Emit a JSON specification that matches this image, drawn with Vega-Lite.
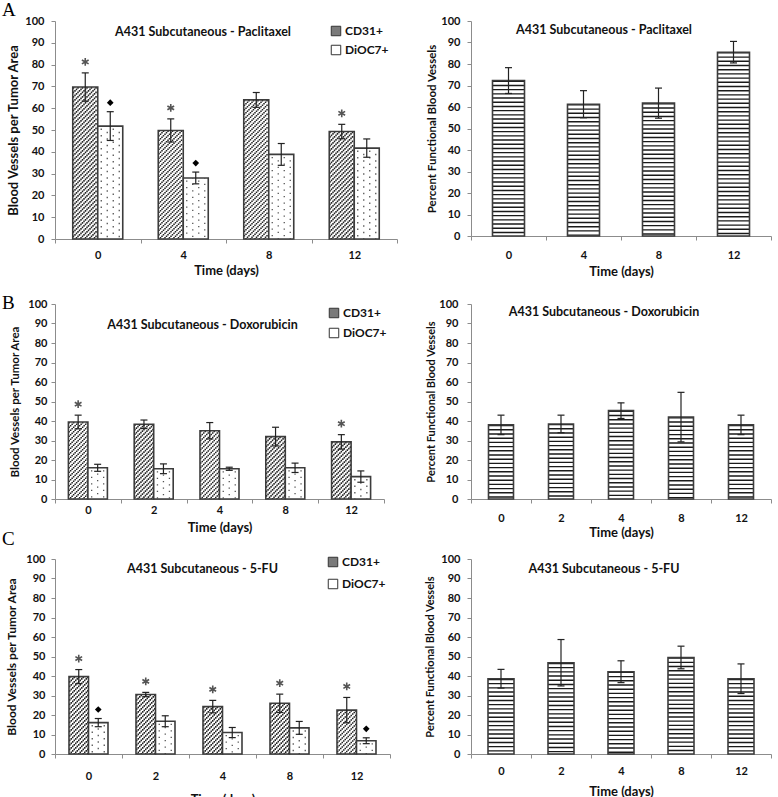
{
"$schema": "https://vega.github.io/schema/vega-lite/v6.json",
"background": "white",
"padding": {"left": 2, "top": 0, "right": 5, "bottom": 5},
"spacing": 15,
"resolve": {"scale": {"fill": "independent", "x": "independent"}, "legend": {"fill": "independent"}},
"config": {
  "font": "Lato",
  "view": {"stroke": null},
  "title": {"font": "Lato", "fontWeight": "bold", "fontSize": 12.5, "color": "#111"},
  "axis": {"labelFont": "Lato", "labelFontWeight": "bold", "labelFontSize": 11, "labelColor": "#111", "titleFont": "Lato", "titleFontWeight": "bold", "titleFontSize": 13, "titleColor": "#111", "domainColor": "#8c8c8c", "tickColor": "#8c8c8c", "tickSize": 4, "grid": false},
  "axisY": {"labelOverlap": false}
},
"vconcat": [
{
  "bounds": "flush",
  "spacing": 74,
  "resolve": {"scale": {"fill": "independent", "x": "independent"}, "legend": {"fill": "independent"}},
  "title": {"text": "A", "anchor": "start", "frame": "group", "orient": "top", "offset": -19.5, "dx": -53, "font": "Liberation Serif", "fontSize": 19, "fontWeight": "normal", "baseline": "alphabetic", "color": "#000"},
  "hconcat": [
  {
    "width": 342, "height": 218,
    "title": {"text": "A431 Subcutaneous - Paclitaxel", "frame": "group", "anchor": "middle", "offset": -33, "dx": -23, "baseline": "alphabetic"},
    "data": {"values": [
      {"day": "0", "s": "CD31+", "v": 69.7, "lo": 63.2, "hi": 76.2, "sig": 1},
      {"day": "0", "s": "DiOC7+", "v": 51.8, "lo": 45.2, "hi": 58.4, "sig": 1},
      {"day": "4", "s": "CD31+", "v": 49.8, "lo": 44.5, "hi": 55.1, "sig": 1},
      {"day": "4", "s": "DiOC7+", "v": 28.0, "lo": 25.3, "hi": 30.7, "sig": 1},
      {"day": "8", "s": "CD31+", "v": 63.8, "lo": 60.4, "hi": 67.2, "sig": 0},
      {"day": "8", "s": "DiOC7+", "v": 38.8, "lo": 33.8, "hi": 43.8, "sig": 0},
      {"day": "12", "s": "CD31+", "v": 49.3, "lo": 46.0, "hi": 52.6, "sig": 1},
      {"day": "12", "s": "DiOC7+", "v": 41.7, "lo": 37.5, "hi": 45.9, "sig": 0}
    ]},
    "encoding": {
      "x": {"field": "day", "type": "ordinal", "sort": null, "scale": {"paddingInner": 0, "paddingOuter": 0}, "axis": {"title": "Time (days)", "labelAngle": 0, "tickBand": "extent", "labelPadding": 6, "titlePadding": 4}},
      "y": {"field": "v", "type": "quantitative", "scale": {"domain": [0, 100]}, "axis": {"title": "Blood Vessels per Tumor Area", "values": [0,10,20,30,40,50,60,70,80,90,100], "labelOverlap": false, "labelPadding": 7, "titlePadding": 4, "titleFontSize": 13}}
    },
    "layer": [
      {"transform": [{"filter": "datum.s == 'CD31+'"}],
       "layer": [
        {"mark": {"type": "bar", "width": 25, "xOffset": -12.5, "fill": "#ffffff"}, "encoding": {}},
        {"encoding": {"y2": {"datum": 0}},
         "layer": [
          {"mark": {"type": "rule", "xOffset": -24.25, "strokeWidth": 1.5, "strokeDash": [1.6, 2.9], "strokeDashOffset": 0, "color": "#222"}, "encoding": {}},
          {"mark": {"type": "rule", "xOffset": -22.75, "strokeWidth": 1.5, "strokeDash": [1.6, 2.9], "strokeDashOffset": 1.5, "color": "#222"}, "encoding": {}},
          {"mark": {"type": "rule", "xOffset": -21.25, "strokeWidth": 1.5, "strokeDash": [1.6, 2.9], "strokeDashOffset": 3, "color": "#222"}, "encoding": {}},
          {"mark": {"type": "rule", "xOffset": -19.75, "strokeWidth": 1.5, "strokeDash": [1.6, 2.9], "strokeDashOffset": 0, "color": "#222"}, "encoding": {}},
          {"mark": {"type": "rule", "xOffset": -18.25, "strokeWidth": 1.5, "strokeDash": [1.6, 2.9], "strokeDashOffset": 1.5, "color": "#222"}, "encoding": {}},
          {"mark": {"type": "rule", "xOffset": -16.75, "strokeWidth": 1.5, "strokeDash": [1.6, 2.9], "strokeDashOffset": 3, "color": "#222"}, "encoding": {}},
          {"mark": {"type": "rule", "xOffset": -15.25, "strokeWidth": 1.5, "strokeDash": [1.6, 2.9], "strokeDashOffset": 0, "color": "#222"}, "encoding": {}},
          {"mark": {"type": "rule", "xOffset": -13.75, "strokeWidth": 1.5, "strokeDash": [1.6, 2.9], "strokeDashOffset": 1.5, "color": "#222"}, "encoding": {}},
          {"mark": {"type": "rule", "xOffset": -12.25, "strokeWidth": 1.5, "strokeDash": [1.6, 2.9], "strokeDashOffset": 3, "color": "#222"}, "encoding": {}},
          {"mark": {"type": "rule", "xOffset": -10.75, "strokeWidth": 1.5, "strokeDash": [1.6, 2.9], "strokeDashOffset": 0, "color": "#222"}, "encoding": {}},
          {"mark": {"type": "rule", "xOffset": -9.25, "strokeWidth": 1.5, "strokeDash": [1.6, 2.9], "strokeDashOffset": 1.5, "color": "#222"}, "encoding": {}},
          {"mark": {"type": "rule", "xOffset": -7.75, "strokeWidth": 1.5, "strokeDash": [1.6, 2.9], "strokeDashOffset": 3, "color": "#222"}, "encoding": {}},
          {"mark": {"type": "rule", "xOffset": -6.25, "strokeWidth": 1.5, "strokeDash": [1.6, 2.9], "strokeDashOffset": 0, "color": "#222"}, "encoding": {}},
          {"mark": {"type": "rule", "xOffset": -4.75, "strokeWidth": 1.5, "strokeDash": [1.6, 2.9], "strokeDashOffset": 1.5, "color": "#222"}, "encoding": {}},
          {"mark": {"type": "rule", "xOffset": -3.25, "strokeWidth": 1.5, "strokeDash": [1.6, 2.9], "strokeDashOffset": 3, "color": "#222"}, "encoding": {}},
          {"mark": {"type": "rule", "xOffset": -1.75, "strokeWidth": 1.5, "strokeDash": [1.6, 2.9], "strokeDashOffset": 0, "color": "#222"}, "encoding": {}}
         ]},
        {"mark": {"type": "bar", "width": 25, "xOffset": -12.5, "fillOpacity": 0, "stroke": "#3c3c3c", "strokeWidth": 1.6}, "encoding": {}},
        {"mark": {"type": "rule", "xOffset": -12.5, "color": "#222", "strokeWidth": 1.2}, "encoding": {"y": {"field": "lo", "type": "quantitative", "axis": {"title": "Blood Vessels per Tumor Area", "values": [0,10,20,30,40,50,60,70,80,90,100], "labelOverlap": false, "labelPadding": 7, "titlePadding": 4, "titleFontSize": 13}}, "y2": {"field": "hi"}}},
        {"mark": {"type": "tick", "xOffset": -12.5, "color": "#222", "size": 7, "thickness": 1.2, "opacity": 1}, "encoding": {"y": {"field": "lo", "type": "quantitative", "axis": {"title": "Blood Vessels per Tumor Area", "values": [0,10,20,30,40,50,60,70,80,90,100], "labelOverlap": false, "labelPadding": 7, "titlePadding": 4, "titleFontSize": 13}}}},
        {"mark": {"type": "tick", "xOffset": -12.5, "color": "#222", "size": 7, "thickness": 1.2, "opacity": 1}, "encoding": {"y": {"field": "hi", "type": "quantitative", "axis": {"title": "Blood Vessels per Tumor Area", "values": [0,10,20,30,40,50,60,70,80,90,100], "labelOverlap": false, "labelPadding": 7, "titlePadding": 4, "titleFontSize": 13}}}},
        {"transform": [{"filter": "datum.sig == 1"}], "mark": {"type": "point", "shape": "M0,-1L0,1M-0.87,-0.5L0.87,0.5M-0.87,0.5L0.87,-0.5", "filled": false, "size": 60, "strokeWidth": 1.6, "color": "#555", "opacity": 1, "xOffset": -12.5, "yOffset": -11}, "encoding": {"y": {"field": "hi", "type": "quantitative", "axis": {"title": "Blood Vessels per Tumor Area", "values": [0,10,20,30,40,50,60,70,80,90,100], "labelOverlap": false, "labelPadding": 7, "titlePadding": 4, "titleFontSize": 13}}}}
       ]},
      {"transform": [{"filter": "datum.s == 'DiOC7+'"}],
       "layer": [
        {"mark": {"type": "bar", "width": 25, "xOffset": 12.5, "fill": "#ffffff"}, "encoding": {}},
        {"encoding": {"y2": {"datum": 0}},
         "layer": [
          {"mark": {"type": "rule", "xOffset": 3.5, "strokeWidth": 1.3, "strokeDash": [1.3, 5.2], "strokeDashOffset": -2.5, "color": "#555"}, "encoding": {}},
          {"mark": {"type": "rule", "xOffset": 9.5, "strokeWidth": 1.3, "strokeDash": [1.3, 5.2], "strokeDashOffset": -5.75, "color": "#555"}, "encoding": {}},
          {"mark": {"type": "rule", "xOffset": 15.5, "strokeWidth": 1.3, "strokeDash": [1.3, 5.2], "strokeDashOffset": -2.5, "color": "#555"}, "encoding": {}},
          {"mark": {"type": "rule", "xOffset": 21.5, "strokeWidth": 1.3, "strokeDash": [1.3, 5.2], "strokeDashOffset": -5.75, "color": "#555"}, "encoding": {}}
         ]},
        {"mark": {"type": "bar", "width": 25, "xOffset": 12.5, "fillOpacity": 0, "stroke": "#3c3c3c", "strokeWidth": 1.6}, "encoding": {}},
        {"mark": {"type": "rule", "xOffset": 12.5, "color": "#222", "strokeWidth": 1.2}, "encoding": {"y": {"field": "lo", "type": "quantitative", "axis": {"title": "Blood Vessels per Tumor Area", "values": [0,10,20,30,40,50,60,70,80,90,100], "labelOverlap": false, "labelPadding": 7, "titlePadding": 4, "titleFontSize": 13}}, "y2": {"field": "hi"}}},
        {"mark": {"type": "tick", "xOffset": 12.5, "color": "#222", "size": 7, "thickness": 1.2, "opacity": 1}, "encoding": {"y": {"field": "lo", "type": "quantitative", "axis": {"title": "Blood Vessels per Tumor Area", "values": [0,10,20,30,40,50,60,70,80,90,100], "labelOverlap": false, "labelPadding": 7, "titlePadding": 4, "titleFontSize": 13}}}},
        {"mark": {"type": "tick", "xOffset": 12.5, "color": "#222", "size": 7, "thickness": 1.2, "opacity": 1}, "encoding": {"y": {"field": "hi", "type": "quantitative", "axis": {"title": "Blood Vessels per Tumor Area", "values": [0,10,20,30,40,50,60,70,80,90,100], "labelOverlap": false, "labelPadding": 7, "titlePadding": 4, "titleFontSize": 13}}}},
        {"transform": [{"filter": "datum.sig == 1"}], "mark": {"type": "point", "shape": "diamond", "filled": true, "size": 45, "color": "#000", "opacity": 1, "xOffset": 12.5, "yOffset": -9}, "encoding": {"y": {"field": "hi", "type": "quantitative", "axis": {"title": "Blood Vessels per Tumor Area", "values": [0,10,20,30,40,50,60,70,80,90,100], "labelOverlap": false, "labelPadding": 7, "titlePadding": 4, "titleFontSize": 13}}}}
       ]},
      {"transform": [{"filter": "datum.s == 'none'"}],
       "mark": {"type": "square", "opacity": 1, "stroke": "#333", "strokeWidth": 1},
       "encoding": {"fill": {"field": "s", "type": "nominal", "scale": {"domain": ["CD31+", "DiOC7+"], "range": ["#7a7a7a", "#ffffff"]}, "legend": {"title": null, "orient": "none", "legendX": 275, "legendY": 4, "symbolType": "square", "symbolSize": 90, "symbolStrokeColor": "#333", "symbolStrokeWidth": 1, "symbolOpacity": 1, "labelFont": "Lato", "labelFontSize": 12, "labelFontWeight": "bold", "labelColor": "#111", "rowPadding": 5, "labelOffset": 3}}}}
    ]
  },
  {
    "width": 300, "height": 215,
    "title": {"text": "A431 Subcutaneous - Paclitaxel", "frame": "group", "anchor": "middle", "offset": -31, "dx": -17, "baseline": "alphabetic"},
    "data": {"values": [
      {"day": "0", "v": 72.3, "lo": 66.3, "hi": 78.3},
      {"day": "4", "v": 61.3, "lo": 55.0, "hi": 67.6},
      {"day": "8", "v": 61.8, "lo": 54.8, "hi": 68.8},
      {"day": "12", "v": 85.5, "lo": 80.5, "hi": 90.5}
    ]},
    "encoding": {
      "x": {"field": "day", "type": "ordinal", "sort": null, "scale": {"paddingInner": 0, "paddingOuter": 0}, "axis": {"title": "Time (days)", "labelAngle": 0, "tickBand": "extent", "labelPadding": 9, "titlePadding": 5}},
      "y": {"field": "v", "type": "quantitative", "scale": {"domain": [0, 100]}, "axis": {"title": "Percent Functional Blood Vessels", "values": [0,10,20,30,40,50,60,70,80,90,100], "labelOverlap": false, "labelPadding": 7, "titlePadding": 3, "titleFontSize": 11.5}}
    },
    "layer": [
      {"mark": {"type": "bar", "width": 32, "fill": "#ffffff"}, "encoding": {}},
      {"mark": {"type": "rule", "strokeWidth": 32, "strokeDash": [1.4, 2.8], "color": "#1a1a1a"}, "encoding": {"y2": {"datum": 0}}},
      {"mark": {"type": "bar", "width": 32, "fillOpacity": 0, "stroke": "#3c3c3c", "strokeWidth": 1.6}, "encoding": {}},
      {"mark": {"type": "rule", "color": "#222", "strokeWidth": 1.2}, "encoding": {"y": {"field": "lo", "type": "quantitative", "axis": {"title": "Percent Functional Blood Vessels", "values": [0,10,20,30,40,50,60,70,80,90,100], "labelOverlap": false, "labelPadding": 7, "titlePadding": 3, "titleFontSize": 11.5}}, "y2": {"field": "hi"}}},
      {"mark": {"type": "tick", "color": "#222", "size": 7, "thickness": 1.2, "opacity": 1}, "encoding": {"y": {"field": "lo", "type": "quantitative", "axis": {"title": "Percent Functional Blood Vessels", "values": [0,10,20,30,40,50,60,70,80,90,100], "labelOverlap": false, "labelPadding": 7, "titlePadding": 3, "titleFontSize": 11.5}}}},
      {"mark": {"type": "tick", "color": "#222", "size": 7, "thickness": 1.2, "opacity": 1}, "encoding": {"y": {"field": "hi", "type": "quantitative", "axis": {"title": "Percent Functional Blood Vessels", "values": [0,10,20,30,40,50,60,70,80,90,100], "labelOverlap": false, "labelPadding": 7, "titlePadding": 3, "titleFontSize": 11.5}}}}
    ]
  }
  ]
},
{
  "spacing": -10,
  "resolve": {"scale": {"fill": "independent", "x": "independent"}, "legend": {"fill": "independent"}},
  "vconcat": [
  {
    "bounds": "flush",
    "spacing": 87,
    "resolve": {"scale": {"fill": "independent", "x": "independent"}, "legend": {"fill": "independent"}},
    "title": {"text": "B", "anchor": "start", "frame": "group", "orient": "top", "offset": -29.5, "dx": -53, "font": "Liberation Serif", "fontSize": 19, "fontWeight": "normal", "baseline": "alphabetic", "color": "#000"},
    "hconcat": [
    {
      "width": 329, "height": 195,
      "title": {"text": "A431 Subcutaneous - Doxorubicin", "frame": "group", "anchor": "middle", "offset": -43, "dx": -17, "baseline": "alphabetic"},
      "data": {"values": [
        {"day": "0", "s": "CD31+", "v": 39.5, "lo": 36.0, "hi": 43.0, "sig": 1},
        {"day": "0", "s": "DiOC7+", "v": 16.0, "lo": 14.2, "hi": 17.8, "sig": 0},
        {"day": "2", "s": "CD31+", "v": 38.3, "lo": 36.1, "hi": 40.5, "sig": 0},
        {"day": "2", "s": "DiOC7+", "v": 15.5, "lo": 13.0, "hi": 18.0, "sig": 0},
        {"day": "4", "s": "CD31+", "v": 35.0, "lo": 30.8, "hi": 39.2, "sig": 0},
        {"day": "4", "s": "DiOC7+", "v": 15.5, "lo": 14.7, "hi": 16.3, "sig": 0},
        {"day": "8", "s": "CD31+", "v": 32.0, "lo": 27.2, "hi": 36.8, "sig": 0},
        {"day": "8", "s": "DiOC7+", "v": 16.0, "lo": 13.6, "hi": 18.4, "sig": 0},
        {"day": "12", "s": "CD31+", "v": 29.3, "lo": 25.6, "hi": 33.0, "sig": 1},
        {"day": "12", "s": "DiOC7+", "v": 11.5, "lo": 8.6, "hi": 14.4, "sig": 0}
      ]},
      "encoding": {
        "x": {"field": "day", "type": "ordinal", "sort": null, "scale": {"paddingInner": 0, "paddingOuter": 0}, "axis": {"title": "Time (days)", "labelAngle": 0, "tickBand": "extent", "labelPadding": 1, "titlePadding": 6}},
        "y": {"field": "v", "type": "quantitative", "scale": {"domain": [0, 100]}, "axis": {"title": "Blood Vessels per Tumor Area", "values": [0,10,20,30,40,50,60,70,80,90,100], "labelOverlap": false, "labelPadding": 4, "titlePadding": 7, "titleFontSize": 11.5}}
      },
      "layer": [
        {"transform": [{"filter": "datum.s == 'CD31+'"}],
         "layer": [
          {"mark": {"type": "bar", "width": 19.5, "xOffset": -9.75, "fill": "#ffffff"}, "encoding": {}},
          {"encoding": {"y2": {"datum": 0}},
           "layer": [
            {"mark": {"type": "rule", "xOffset": -18.75, "strokeWidth": 1.5, "strokeDash": [1.6, 2.9], "strokeDashOffset": 0, "color": "#222"}, "encoding": {}},
            {"mark": {"type": "rule", "xOffset": -17.25, "strokeWidth": 1.5, "strokeDash": [1.6, 2.9], "strokeDashOffset": 1.5, "color": "#222"}, "encoding": {}},
            {"mark": {"type": "rule", "xOffset": -15.75, "strokeWidth": 1.5, "strokeDash": [1.6, 2.9], "strokeDashOffset": 3, "color": "#222"}, "encoding": {}},
            {"mark": {"type": "rule", "xOffset": -14.25, "strokeWidth": 1.5, "strokeDash": [1.6, 2.9], "strokeDashOffset": 0, "color": "#222"}, "encoding": {}},
            {"mark": {"type": "rule", "xOffset": -12.75, "strokeWidth": 1.5, "strokeDash": [1.6, 2.9], "strokeDashOffset": 1.5, "color": "#222"}, "encoding": {}},
            {"mark": {"type": "rule", "xOffset": -11.25, "strokeWidth": 1.5, "strokeDash": [1.6, 2.9], "strokeDashOffset": 3, "color": "#222"}, "encoding": {}},
            {"mark": {"type": "rule", "xOffset": -9.75, "strokeWidth": 1.5, "strokeDash": [1.6, 2.9], "strokeDashOffset": 0, "color": "#222"}, "encoding": {}},
            {"mark": {"type": "rule", "xOffset": -8.25, "strokeWidth": 1.5, "strokeDash": [1.6, 2.9], "strokeDashOffset": 1.5, "color": "#222"}, "encoding": {}},
            {"mark": {"type": "rule", "xOffset": -6.75, "strokeWidth": 1.5, "strokeDash": [1.6, 2.9], "strokeDashOffset": 3, "color": "#222"}, "encoding": {}},
            {"mark": {"type": "rule", "xOffset": -5.25, "strokeWidth": 1.5, "strokeDash": [1.6, 2.9], "strokeDashOffset": 0, "color": "#222"}, "encoding": {}},
            {"mark": {"type": "rule", "xOffset": -3.75, "strokeWidth": 1.5, "strokeDash": [1.6, 2.9], "strokeDashOffset": 1.5, "color": "#222"}, "encoding": {}},
            {"mark": {"type": "rule", "xOffset": -2.25, "strokeWidth": 1.5, "strokeDash": [1.6, 2.9], "strokeDashOffset": 3, "color": "#222"}, "encoding": {}},
            {"mark": {"type": "rule", "xOffset": -0.75, "strokeWidth": 1.5, "strokeDash": [1.6, 2.9], "strokeDashOffset": 0, "color": "#222"}, "encoding": {}}
           ]},
          {"mark": {"type": "bar", "width": 19.5, "xOffset": -9.75, "fillOpacity": 0, "stroke": "#3c3c3c", "strokeWidth": 1.6}, "encoding": {}},
          {"mark": {"type": "rule", "xOffset": -9.75, "color": "#222", "strokeWidth": 1.2}, "encoding": {"y": {"field": "lo", "type": "quantitative", "axis": {"title": "Blood Vessels per Tumor Area", "values": [0,10,20,30,40,50,60,70,80,90,100], "labelOverlap": false, "labelPadding": 4, "titlePadding": 7, "titleFontSize": 11.5}}, "y2": {"field": "hi"}}},
          {"mark": {"type": "tick", "xOffset": -9.75, "color": "#222", "size": 7, "thickness": 1.2, "opacity": 1}, "encoding": {"y": {"field": "lo", "type": "quantitative", "axis": {"title": "Blood Vessels per Tumor Area", "values": [0,10,20,30,40,50,60,70,80,90,100], "labelOverlap": false, "labelPadding": 4, "titlePadding": 7, "titleFontSize": 11.5}}}},
          {"mark": {"type": "tick", "xOffset": -9.75, "color": "#222", "size": 7, "thickness": 1.2, "opacity": 1}, "encoding": {"y": {"field": "hi", "type": "quantitative", "axis": {"title": "Blood Vessels per Tumor Area", "values": [0,10,20,30,40,50,60,70,80,90,100], "labelOverlap": false, "labelPadding": 4, "titlePadding": 7, "titleFontSize": 11.5}}}},
          {"transform": [{"filter": "datum.sig == 1"}], "mark": {"type": "point", "shape": "M0,-1L0,1M-0.87,-0.5L0.87,0.5M-0.87,0.5L0.87,-0.5", "filled": false, "size": 60, "strokeWidth": 1.6, "color": "#555", "opacity": 1, "xOffset": -9.75, "yOffset": -11}, "encoding": {"y": {"field": "hi", "type": "quantitative", "axis": {"title": "Blood Vessels per Tumor Area", "values": [0,10,20,30,40,50,60,70,80,90,100], "labelOverlap": false, "labelPadding": 4, "titlePadding": 7, "titleFontSize": 11.5}}}}
         ]},
        {"transform": [{"filter": "datum.s == 'DiOC7+'"}],
         "layer": [
          {"mark": {"type": "bar", "width": 19.5, "xOffset": 9.75, "fill": "#ffffff"}, "encoding": {}},
          {"encoding": {"y2": {"datum": 0}},
           "layer": [
            {"mark": {"type": "rule", "xOffset": 3.75, "strokeWidth": 1.3, "strokeDash": [1.3, 5.2], "strokeDashOffset": -2.5, "color": "#555"}, "encoding": {}},
            {"mark": {"type": "rule", "xOffset": 9.75, "strokeWidth": 1.3, "strokeDash": [1.3, 5.2], "strokeDashOffset": -5.75, "color": "#555"}, "encoding": {}},
            {"mark": {"type": "rule", "xOffset": 15.75, "strokeWidth": 1.3, "strokeDash": [1.3, 5.2], "strokeDashOffset": -2.5, "color": "#555"}, "encoding": {}}
           ]},
          {"mark": {"type": "bar", "width": 19.5, "xOffset": 9.75, "fillOpacity": 0, "stroke": "#3c3c3c", "strokeWidth": 1.6}, "encoding": {}},
          {"mark": {"type": "rule", "xOffset": 9.75, "color": "#222", "strokeWidth": 1.2}, "encoding": {"y": {"field": "lo", "type": "quantitative", "axis": {"title": "Blood Vessels per Tumor Area", "values": [0,10,20,30,40,50,60,70,80,90,100], "labelOverlap": false, "labelPadding": 4, "titlePadding": 7, "titleFontSize": 11.5}}, "y2": {"field": "hi"}}},
          {"mark": {"type": "tick", "xOffset": 9.75, "color": "#222", "size": 7, "thickness": 1.2, "opacity": 1}, "encoding": {"y": {"field": "lo", "type": "quantitative", "axis": {"title": "Blood Vessels per Tumor Area", "values": [0,10,20,30,40,50,60,70,80,90,100], "labelOverlap": false, "labelPadding": 4, "titlePadding": 7, "titleFontSize": 11.5}}}},
          {"mark": {"type": "tick", "xOffset": 9.75, "color": "#222", "size": 7, "thickness": 1.2, "opacity": 1}, "encoding": {"y": {"field": "hi", "type": "quantitative", "axis": {"title": "Blood Vessels per Tumor Area", "values": [0,10,20,30,40,50,60,70,80,90,100], "labelOverlap": false, "labelPadding": 4, "titlePadding": 7, "titleFontSize": 11.5}}}}
         ]},
        {"transform": [{"filter": "datum.s == 'none'"}],
         "mark": {"type": "square", "opacity": 1, "stroke": "#333", "strokeWidth": 1},
         "encoding": {"fill": {"field": "s", "type": "nominal", "scale": {"domain": ["CD31+", "DiOC7+"], "range": ["#7a7a7a", "#ffffff"]}, "legend": {"title": null, "orient": "none", "legendX": 273, "legendY": 3, "symbolType": "square", "symbolSize": 90, "symbolStrokeColor": "#333", "symbolStrokeWidth": 1, "symbolOpacity": 1, "labelFont": "Lato", "labelFontSize": 12, "labelFontWeight": "bold", "labelColor": "#111", "rowPadding": 6, "labelOffset": 3}}}}
      ]
    },
    {
      "width": 300, "height": 195,
      "title": {"text": "A431 Subcutaneous - Doxorubicin", "frame": "group", "anchor": "middle", "offset": -30, "dx": -17, "baseline": "alphabetic"},
      "data": {"values": [
        {"day": "0", "v": 38.0, "lo": 33.0, "hi": 43.0},
        {"day": "2", "v": 38.5, "lo": 34.0, "hi": 43.0},
        {"day": "4", "v": 45.3, "lo": 41.3, "hi": 49.3},
        {"day": "8", "v": 42.0, "lo": 29.3, "hi": 54.7},
        {"day": "12", "v": 38.0, "lo": 33.0, "hi": 43.0}
      ]},
      "encoding": {
        "x": {"field": "day", "type": "ordinal", "sort": null, "scale": {"paddingInner": 0, "paddingOuter": 0}, "axis": {"title": "Time (days)", "labelAngle": 0, "tickBand": "extent", "labelPadding": 9, "titlePadding": 3}},
        "y": {"field": "v", "type": "quantitative", "scale": {"domain": [0, 100]}, "axis": {"title": "Percent Functional Blood Vessels", "values": [0,10,20,30,40,50,60,70,80,90,100], "labelOverlap": false, "labelPadding": 9, "titlePadding": 2, "titleFontSize": 11}}
      },
      "layer": [
        {"mark": {"type": "bar", "width": 25, "fill": "#ffffff"}, "encoding": {}},
        {"mark": {"type": "rule", "strokeWidth": 25, "strokeDash": [1.4, 2.8], "color": "#1a1a1a"}, "encoding": {"y2": {"datum": 0}}},
        {"mark": {"type": "bar", "width": 25, "fillOpacity": 0, "stroke": "#3c3c3c", "strokeWidth": 1.6}, "encoding": {}},
        {"mark": {"type": "rule", "color": "#222", "strokeWidth": 1.2}, "encoding": {"y": {"field": "lo", "type": "quantitative", "axis": {"title": "Percent Functional Blood Vessels", "values": [0,10,20,30,40,50,60,70,80,90,100], "labelOverlap": false, "labelPadding": 9, "titlePadding": 2, "titleFontSize": 11}}, "y2": {"field": "hi"}}},
        {"mark": {"type": "tick", "color": "#222", "size": 7, "thickness": 1.2, "opacity": 1}, "encoding": {"y": {"field": "lo", "type": "quantitative", "axis": {"title": "Percent Functional Blood Vessels", "values": [0,10,20,30,40,50,60,70,80,90,100], "labelOverlap": false, "labelPadding": 9, "titlePadding": 2, "titleFontSize": 11}}}},
        {"mark": {"type": "tick", "color": "#222", "size": 7, "thickness": 1.2, "opacity": 1}, "encoding": {"y": {"field": "hi", "type": "quantitative", "axis": {"title": "Percent Functional Blood Vessels", "values": [0,10,20,30,40,50,60,70,80,90,100], "labelOverlap": false, "labelPadding": 9, "titlePadding": 2, "titleFontSize": 11}}}}
      ]
    }
    ]
  },
  {
    "bounds": "flush",
    "spacing": 81,
    "resolve": {"scale": {"fill": "independent", "x": "independent"}, "legend": {"fill": "independent"}},
    "title": {"text": "C", "anchor": "start", "frame": "group", "orient": "top", "offset": -10.5, "dx": -53, "font": "Liberation Serif", "fontSize": 19, "fontWeight": "normal", "baseline": "alphabetic", "color": "#000"},
    "hconcat": [
    {
      "width": 335, "height": 195,
      "title": {"text": "A431 Subcutaneous - 5-FU", "frame": "group", "anchor": "middle", "offset": -32, "dx": -20, "baseline": "alphabetic"},
      "data": {"values": [
        {"day": "0", "s": "CD31+", "v": 39.7, "lo": 36.1, "hi": 43.3, "sig": 1},
        {"day": "0", "s": "DiOC7+", "v": 16.1, "lo": 14.0, "hi": 18.2, "sig": 1},
        {"day": "2", "s": "CD31+", "v": 30.5, "lo": 29.4, "hi": 31.6, "sig": 1},
        {"day": "2", "s": "DiOC7+", "v": 16.8, "lo": 14.0, "hi": 19.6, "sig": 0},
        {"day": "4", "s": "CD31+", "v": 24.3, "lo": 21.1, "hi": 27.5, "sig": 1},
        {"day": "4", "s": "DiOC7+", "v": 11.0, "lo": 8.4, "hi": 13.6, "sig": 0},
        {"day": "8", "s": "CD31+", "v": 26.0, "lo": 21.3, "hi": 30.7, "sig": 1},
        {"day": "8", "s": "DiOC7+", "v": 13.4, "lo": 10.1, "hi": 16.7, "sig": 0},
        {"day": "12", "s": "CD31+", "v": 22.5, "lo": 16.0, "hi": 29.0, "sig": 1},
        {"day": "12", "s": "DiOC7+", "v": 6.8, "lo": 5.3, "hi": 8.3, "sig": 1}
      ]},
      "encoding": {
        "x": {"field": "day", "type": "ordinal", "sort": null, "scale": {"paddingInner": 0, "paddingOuter": 0}, "axis": {"title": "Time (days)", "labelAngle": 0, "tickBand": "extent", "labelPadding": 12, "titlePadding": 12}},
        "y": {"field": "v", "type": "quantitative", "scale": {"domain": [0, 100]}, "axis": {"title": "Blood Vessels per Tumor Area", "values": [0,10,20,30,40,50,60,70,80,90,100], "labelOverlap": false, "labelPadding": 6, "titlePadding": 7, "titleFontSize": 12}}
      },
      "layer": [
        {"transform": [{"filter": "datum.s == 'CD31+'"}],
         "layer": [
          {"mark": {"type": "bar", "width": 19.5, "xOffset": -9.75, "fill": "#ffffff"}, "encoding": {}},
          {"encoding": {"y2": {"datum": 0}},
           "layer": [
            {"mark": {"type": "rule", "xOffset": -18.75, "strokeWidth": 1.5, "strokeDash": [1.6, 2.9], "strokeDashOffset": 0, "color": "#222"}, "encoding": {}},
            {"mark": {"type": "rule", "xOffset": -17.25, "strokeWidth": 1.5, "strokeDash": [1.6, 2.9], "strokeDashOffset": 1.5, "color": "#222"}, "encoding": {}},
            {"mark": {"type": "rule", "xOffset": -15.75, "strokeWidth": 1.5, "strokeDash": [1.6, 2.9], "strokeDashOffset": 3, "color": "#222"}, "encoding": {}},
            {"mark": {"type": "rule", "xOffset": -14.25, "strokeWidth": 1.5, "strokeDash": [1.6, 2.9], "strokeDashOffset": 0, "color": "#222"}, "encoding": {}},
            {"mark": {"type": "rule", "xOffset": -12.75, "strokeWidth": 1.5, "strokeDash": [1.6, 2.9], "strokeDashOffset": 1.5, "color": "#222"}, "encoding": {}},
            {"mark": {"type": "rule", "xOffset": -11.25, "strokeWidth": 1.5, "strokeDash": [1.6, 2.9], "strokeDashOffset": 3, "color": "#222"}, "encoding": {}},
            {"mark": {"type": "rule", "xOffset": -9.75, "strokeWidth": 1.5, "strokeDash": [1.6, 2.9], "strokeDashOffset": 0, "color": "#222"}, "encoding": {}},
            {"mark": {"type": "rule", "xOffset": -8.25, "strokeWidth": 1.5, "strokeDash": [1.6, 2.9], "strokeDashOffset": 1.5, "color": "#222"}, "encoding": {}},
            {"mark": {"type": "rule", "xOffset": -6.75, "strokeWidth": 1.5, "strokeDash": [1.6, 2.9], "strokeDashOffset": 3, "color": "#222"}, "encoding": {}},
            {"mark": {"type": "rule", "xOffset": -5.25, "strokeWidth": 1.5, "strokeDash": [1.6, 2.9], "strokeDashOffset": 0, "color": "#222"}, "encoding": {}},
            {"mark": {"type": "rule", "xOffset": -3.75, "strokeWidth": 1.5, "strokeDash": [1.6, 2.9], "strokeDashOffset": 1.5, "color": "#222"}, "encoding": {}},
            {"mark": {"type": "rule", "xOffset": -2.25, "strokeWidth": 1.5, "strokeDash": [1.6, 2.9], "strokeDashOffset": 3, "color": "#222"}, "encoding": {}},
            {"mark": {"type": "rule", "xOffset": -0.75, "strokeWidth": 1.5, "strokeDash": [1.6, 2.9], "strokeDashOffset": 0, "color": "#222"}, "encoding": {}}
           ]},
          {"mark": {"type": "bar", "width": 19.5, "xOffset": -9.75, "fillOpacity": 0, "stroke": "#3c3c3c", "strokeWidth": 1.6}, "encoding": {}},
          {"mark": {"type": "rule", "xOffset": -9.75, "color": "#222", "strokeWidth": 1.2}, "encoding": {"y": {"field": "lo", "type": "quantitative", "axis": {"title": "Blood Vessels per Tumor Area", "values": [0,10,20,30,40,50,60,70,80,90,100], "labelOverlap": false, "labelPadding": 6, "titlePadding": 7, "titleFontSize": 12}}, "y2": {"field": "hi"}}},
          {"mark": {"type": "tick", "xOffset": -9.75, "color": "#222", "size": 7, "thickness": 1.2, "opacity": 1}, "encoding": {"y": {"field": "lo", "type": "quantitative", "axis": {"title": "Blood Vessels per Tumor Area", "values": [0,10,20,30,40,50,60,70,80,90,100], "labelOverlap": false, "labelPadding": 6, "titlePadding": 7, "titleFontSize": 12}}}},
          {"mark": {"type": "tick", "xOffset": -9.75, "color": "#222", "size": 7, "thickness": 1.2, "opacity": 1}, "encoding": {"y": {"field": "hi", "type": "quantitative", "axis": {"title": "Blood Vessels per Tumor Area", "values": [0,10,20,30,40,50,60,70,80,90,100], "labelOverlap": false, "labelPadding": 6, "titlePadding": 7, "titleFontSize": 12}}}},
          {"transform": [{"filter": "datum.sig == 1"}], "mark": {"type": "point", "shape": "M0,-1L0,1M-0.87,-0.5L0.87,0.5M-0.87,0.5L0.87,-0.5", "filled": false, "size": 60, "strokeWidth": 1.6, "color": "#555", "opacity": 1, "xOffset": -9.75, "yOffset": -11}, "encoding": {"y": {"field": "hi", "type": "quantitative", "axis": {"title": "Blood Vessels per Tumor Area", "values": [0,10,20,30,40,50,60,70,80,90,100], "labelOverlap": false, "labelPadding": 6, "titlePadding": 7, "titleFontSize": 12}}}}
         ]},
        {"transform": [{"filter": "datum.s == 'DiOC7+'"}],
         "layer": [
          {"mark": {"type": "bar", "width": 19.5, "xOffset": 9.75, "fill": "#ffffff"}, "encoding": {}},
          {"encoding": {"y2": {"datum": 0}},
           "layer": [
            {"mark": {"type": "rule", "xOffset": 3.75, "strokeWidth": 1.3, "strokeDash": [1.3, 5.2], "strokeDashOffset": -2.5, "color": "#555"}, "encoding": {}},
            {"mark": {"type": "rule", "xOffset": 9.75, "strokeWidth": 1.3, "strokeDash": [1.3, 5.2], "strokeDashOffset": -5.75, "color": "#555"}, "encoding": {}},
            {"mark": {"type": "rule", "xOffset": 15.75, "strokeWidth": 1.3, "strokeDash": [1.3, 5.2], "strokeDashOffset": -2.5, "color": "#555"}, "encoding": {}}
           ]},
          {"mark": {"type": "bar", "width": 19.5, "xOffset": 9.75, "fillOpacity": 0, "stroke": "#3c3c3c", "strokeWidth": 1.6}, "encoding": {}},
          {"mark": {"type": "rule", "xOffset": 9.75, "color": "#222", "strokeWidth": 1.2}, "encoding": {"y": {"field": "lo", "type": "quantitative", "axis": {"title": "Blood Vessels per Tumor Area", "values": [0,10,20,30,40,50,60,70,80,90,100], "labelOverlap": false, "labelPadding": 6, "titlePadding": 7, "titleFontSize": 12}}, "y2": {"field": "hi"}}},
          {"mark": {"type": "tick", "xOffset": 9.75, "color": "#222", "size": 7, "thickness": 1.2, "opacity": 1}, "encoding": {"y": {"field": "lo", "type": "quantitative", "axis": {"title": "Blood Vessels per Tumor Area", "values": [0,10,20,30,40,50,60,70,80,90,100], "labelOverlap": false, "labelPadding": 6, "titlePadding": 7, "titleFontSize": 12}}}},
          {"mark": {"type": "tick", "xOffset": 9.75, "color": "#222", "size": 7, "thickness": 1.2, "opacity": 1}, "encoding": {"y": {"field": "hi", "type": "quantitative", "axis": {"title": "Blood Vessels per Tumor Area", "values": [0,10,20,30,40,50,60,70,80,90,100], "labelOverlap": false, "labelPadding": 6, "titlePadding": 7, "titleFontSize": 12}}}},
          {"transform": [{"filter": "datum.sig == 1"}], "mark": {"type": "point", "shape": "diamond", "filled": true, "size": 45, "color": "#000", "opacity": 1, "xOffset": 9.75, "yOffset": -9}, "encoding": {"y": {"field": "hi", "type": "quantitative", "axis": {"title": "Blood Vessels per Tumor Area", "values": [0,10,20,30,40,50,60,70,80,90,100], "labelOverlap": false, "labelPadding": 6, "titlePadding": 7, "titleFontSize": 12}}}}
         ]},
        {"transform": [{"filter": "datum.s == 'none'"}],
         "mark": {"type": "square", "opacity": 1, "stroke": "#333", "strokeWidth": 1},
         "encoding": {"fill": {"field": "s", "type": "nominal", "scale": {"domain": ["CD31+", "DiOC7+"], "range": ["#7a7a7a", "#ffffff"]}, "legend": {"title": null, "orient": "none", "legendX": 272, "legendY": -3, "symbolType": "square", "symbolSize": 90, "symbolStrokeColor": "#333", "symbolStrokeWidth": 1, "symbolOpacity": 1, "labelFont": "Lato", "labelFontSize": 12, "labelFontWeight": "bold", "labelColor": "#111", "rowPadding": 8, "labelOffset": 3}}}}
      ]
    },
    {
      "width": 300, "height": 195,
      "title": {"text": "A431 Subcutaneous - 5-FU", "frame": "group", "anchor": "middle", "offset": -32, "dx": -17, "baseline": "alphabetic"},
      "data": {"values": [
        {"day": "0", "v": 38.6, "lo": 33.8, "hi": 43.4},
        {"day": "2", "v": 46.8, "lo": 34.9, "hi": 58.7},
        {"day": "4", "v": 42.2, "lo": 36.6, "hi": 47.8},
        {"day": "8", "v": 49.5, "lo": 43.7, "hi": 55.3},
        {"day": "12", "v": 38.6, "lo": 31.0, "hi": 46.2}
      ]},
      "encoding": {
        "x": {"field": "day", "type": "ordinal", "sort": null, "scale": {"paddingInner": 0, "paddingOuter": 0}, "axis": {"title": "Time (days)", "labelAngle": 0, "tickBand": "extent", "labelPadding": 7, "titlePadding": 9}},
        "y": {"field": "v", "type": "quantitative", "scale": {"domain": [0, 100]}, "axis": {"title": "Percent Functional Blood Vessels", "values": [0,10,20,30,40,50,60,70,80,90,100], "labelOverlap": false, "labelPadding": 7, "titlePadding": 5, "titleFontSize": 11}}
      },
      "layer": [
        {"mark": {"type": "bar", "width": 26, "fill": "#ffffff"}, "encoding": {}},
        {"mark": {"type": "rule", "strokeWidth": 26, "strokeDash": [1.4, 2.8], "color": "#1a1a1a"}, "encoding": {"y2": {"datum": 0}}},
        {"mark": {"type": "bar", "width": 26, "fillOpacity": 0, "stroke": "#3c3c3c", "strokeWidth": 1.6}, "encoding": {}},
        {"mark": {"type": "rule", "color": "#222", "strokeWidth": 1.2}, "encoding": {"y": {"field": "lo", "type": "quantitative", "axis": {"title": "Percent Functional Blood Vessels", "values": [0,10,20,30,40,50,60,70,80,90,100], "labelOverlap": false, "labelPadding": 7, "titlePadding": 5, "titleFontSize": 11}}, "y2": {"field": "hi"}}},
        {"mark": {"type": "tick", "color": "#222", "size": 7, "thickness": 1.2, "opacity": 1}, "encoding": {"y": {"field": "lo", "type": "quantitative", "axis": {"title": "Percent Functional Blood Vessels", "values": [0,10,20,30,40,50,60,70,80,90,100], "labelOverlap": false, "labelPadding": 7, "titlePadding": 5, "titleFontSize": 11}}}},
        {"mark": {"type": "tick", "color": "#222", "size": 7, "thickness": 1.2, "opacity": 1}, "encoding": {"y": {"field": "hi", "type": "quantitative", "axis": {"title": "Percent Functional Blood Vessels", "values": [0,10,20,30,40,50,60,70,80,90,100], "labelOverlap": false, "labelPadding": 7, "titlePadding": 5, "titleFontSize": 11}}}}
      ]
    }
    ]
  }
  ]
}
]
}
